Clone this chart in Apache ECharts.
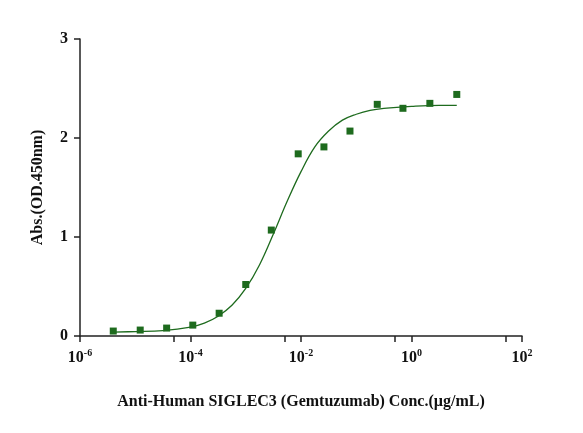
<!DOCTYPE html>
<html>
<head>
<meta charset="UTF-8" />
<title>SIGLEC3 ELISA</title>
<style>
* { margin: 0; padding: 0; }
#chart { width: 583px; height: 433px; background: #fff; }
</style>
</head>
<body>
<div id="chart"></div>
<script src="https://cdn.jsdelivr.net/npm/echarts@6/dist/echarts.min.js"></script>
<script>
// measured points
let concs = [4e-6, 1.23e-5, 3.7e-5, 1.1e-4, 3.3e-4, 1e-3, 2.9e-3, 8.9e-3, 2.6e-2, 7.7e-2, 0.24, 0.7, 2.15, 6.6]
let absVals = [0.05, 0.06, 0.08, 0.11, 0.23, 0.52, 1.07, 1.84, 1.91, 2.07, 2.34, 2.30, 2.35, 2.44]
// fitted curve
let fitX = [4e-6, 1e-5, 3.16e-5, 1e-4, 1.78e-4, 3.16e-4, 5.62e-4, 1e-3, 1.78e-3, 3.16e-3, 5.62e-3, 1e-2, 1.78e-2, 3.16e-2, 5.62e-2, 0.1, 0.178, 0.316, 1, 3.16, 6.6]
let fitY = [0.04, 0.045, 0.055, 0.09, 0.13, 0.2, 0.31, 0.48, 0.72, 1.03, 1.36, 1.66, 1.91, 2.07, 2.18, 2.24, 2.28, 2.3, 2.32, 2.33, 2.33]

let green = '#1e6b1e'
let font = 'Liberation Serif'
let chart = echarts.init(document.getElementById('chart'))

chart.setOption({
  animation: false,
  grid: { left: 80, right: 61, top: 39, bottom: 97 },
  xAxis: {
    type: 'log', logBase: 10, min: 1e-6, max: 1e2, interval: 2,
    name: 'Anti-Human SIGLEC3 (Gemtuzumab) Conc.(\u00b5g/mL)',
    nameLocation: 'middle', nameGap: 58,
    nameTextStyle: { fontFamily: font, fontWeight: 'bold', fontSize: 16, color: '#111' },
    axisLine: { lineStyle: { color: '#222', width: 1.5 } },
    axisTick: { length: 6, lineStyle: { width: 1.5 } },
    minorTick: { show: true, splitNumber: 2, length: 6, lineStyle: { color: '#222', width: 1.5 } },
    splitLine: { show: false },
    axisLabel: {
      margin: 12,
      formatter: v => '{b|10}{s|' + Math.round(Math.log10(v)) + '}',
      rich: {
        b: { fontFamily: font, fontWeight: 'bold', fontSize: 16, color: '#111' },
        s: { fontFamily: font, fontWeight: 'bold', fontSize: 10, color: '#111', verticalAlign: 'top', padding: [0, 0, 10, 0] }
      }
    }
  },
  yAxis: {
    type: 'value', min: 0, max: 3, interval: 1,
    name: 'Abs.(OD.450nm)', nameLocation: 'middle', nameGap: 34,
    nameTextStyle: { fontFamily: font, fontWeight: 'bold', fontSize: 16, color: '#111' },
    axisLine: { show: true, lineStyle: { color: '#222', width: 1.5 } },
    axisTick: { show: true, length: 6, lineStyle: { width: 1.5 } },
    splitLine: { show: false },
    axisLabel: { fontFamily: font, fontWeight: 'bold', fontSize: 16, color: '#111', margin: 12 }
  },
  series: [
    {
      type: 'line', smooth: 0.4, symbol: 'none',
      lineStyle: { color: green, width: 1.3 },
      data: fitX.map((x, i) => [x, fitY[i]])
    },
    {
      type: 'scatter', symbol: 'rect', symbolSize: 7,
      itemStyle: { color: green, opacity: 1 },
      data: concs.map((x, i) => [x, absVals[i]])
    }
  ]
})
</script>
</body>
</html>
